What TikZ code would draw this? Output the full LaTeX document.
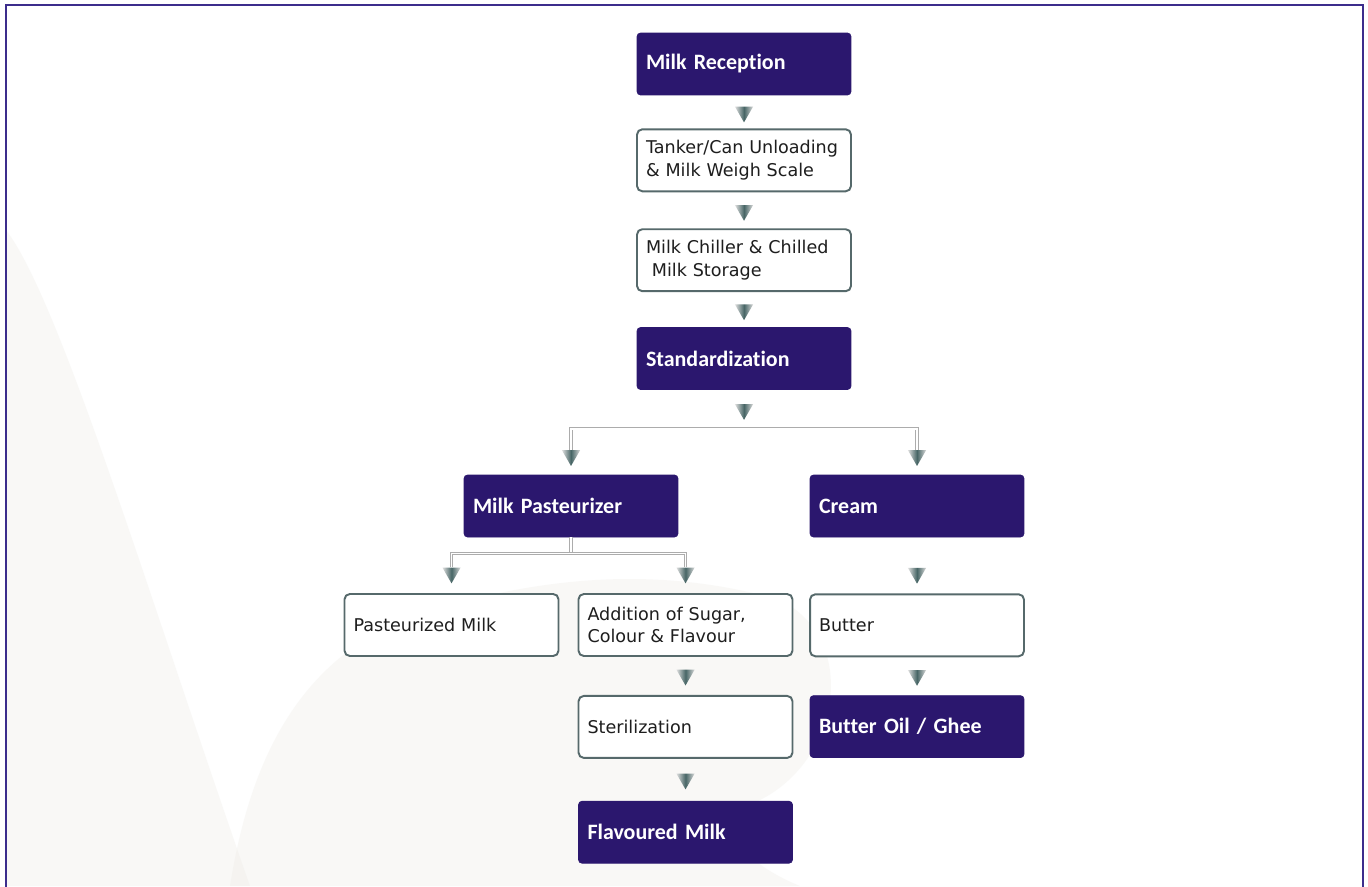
\documentclass[tikz,border=0pt]{standalone}
\usepackage{fontspec}
\setmainfont{DejaVu Sans}
\newfontfamily\headfont[Ligatures=NoCommon]{Carlito}
\usepackage{tikz}
\usetikzlibrary{positioning, shapes.geometric}
\definecolor{dpurple}{RGB}{43,23,110}
\definecolor{fpurple}{RGB}{60,45,140}
\definecolor{slate}{RGB}{86,105,107}
\definecolor{ink}{RGB}{30,30,30}
\definecolor{splash}{RGB}{236,234,228}

\begin{document}
\begin{tikzpicture}[x=0.02cm, y=-0.02cm,
        darkbox/.style={fill=dpurple, draw=dpurple, rounded corners=2pt, minimum width=4.28cm, minimum height=1.24cm,
          inner xsep=0.18cm, text width=3.92cm, align=left, text=white, font=\headfont\bfseries\fontsize{12.5}{15}\selectfont},
        litebox/.style={fill=white, draw=slate, line width=1.1pt, rounded corners=3pt, minimum width=4.28cm, minimum height=1.24cm,
          inner xsep=0.18cm, text width=3.92cm, align=left, text=ink, font=\fontsize{10}{13}\selectfont},
        tri/.style={regular polygon, regular polygon sides=3, shape border rotate=180, minimum size=0.42cm, inner sep=0pt,
          left color=gray!25, right color=gray!30, middle color=gray!70!teal!80!black},
        pipe/.style={draw=gray!65, double=white, double distance=0.03cm, line width=0.45pt}]
      \useasboundingbox (0,0) rectangle (1368,886);
      \fill[white] (0,0) rectangle (1368,886);
      % faint milk splash in the background
      \fill[splash, opacity=0.3] (6,230) .. controls (60,300) and (150,600) .. (250,886) -- (6,886) -- cycle;
      \fill[splash, opacity=0.3] (230,886) .. controls (250,760) and (300,650) .. (430,610)
        .. controls (520,585) and (640,560) .. (780,600) .. controls (860,640) and (840,760) .. (760,800)
        .. controls (700,830) and (760,870) .. (800,886) -- cycle;
      \draw[fpurple, line width=1pt] (6,5) rectangle (1363,900);

      % main column
      \node[darkbox] at (744,64) (recv) {Milk Reception};
      \node[litebox, below=0.66cm of recv] (tank) {Tanker/Can Unloading\\\& Milk Weigh Scale};
      \node[litebox, below=0.72cm of tank] (chill) {Milk Chiller \& Chilled\\\ Milk Storage};
      \node[darkbox, below=0.70cm of chill] (stand) {Standardization};

      % two branches
      \node[darkbox] at (571,506) (past) {Milk Pasteurizer};
      \node[darkbox] at (917,506) (cream) {Cream};
      \node[litebox] at (451.5,625) (pmilk) {Pasteurized Milk};
      \node[litebox] at (685.5,625) (addit) {Addition of Sugar,\\Colour \& Flavour};
      \node[litebox, below=1.12cm of cream] (butter) {Butter};
      \node[litebox, below=0.76cm of addit] (steril) {Sterilization};
      \node[darkbox, below=0.76cm of butter] (ghee) {Butter Oil / Ghee};
      \node[darkbox, below=0.84cm of steril] (flav) {Flavoured Milk};

      % arrow marks
      \path (recv) -- node[tri] {} (tank);
      \path (tank) -- node[tri] {} (chill);
      \path (chill) -- node[tri] {} (stand);
      \coordinate[below=0.78cm of stand] (split);
      \path (stand) -- node[tri] {} (split);
      \node[tri, above=0.16cm of past] (tp) {};
      \node[tri, above=0.16cm of cream] (tc) {};
      \draw[pipe] (tp.north) |- (split) -| (tc.north);

      \coordinate[below=0.32cm of past] (split2);
      \node[tri, above=0.18cm of pmilk] (ta) {};
      \node[tri, above=0.18cm of addit] (tb) {};
      \draw[pipe] (past.south) -- (split2);
      \draw[pipe] (ta.north) |- (split2) -| (tb.north);
      \node[tri, above=0.18cm of butter] (tbu) {};

      \path (addit) -- node[tri, yshift=0.02cm] {} (steril);
      \path (butter) -- node[tri, yshift=0.02cm] {} (ghee);
      \path (steril) -- node[tri, yshift=0.02cm] {} (flav);
    \end{tikzpicture}
\end{document}
